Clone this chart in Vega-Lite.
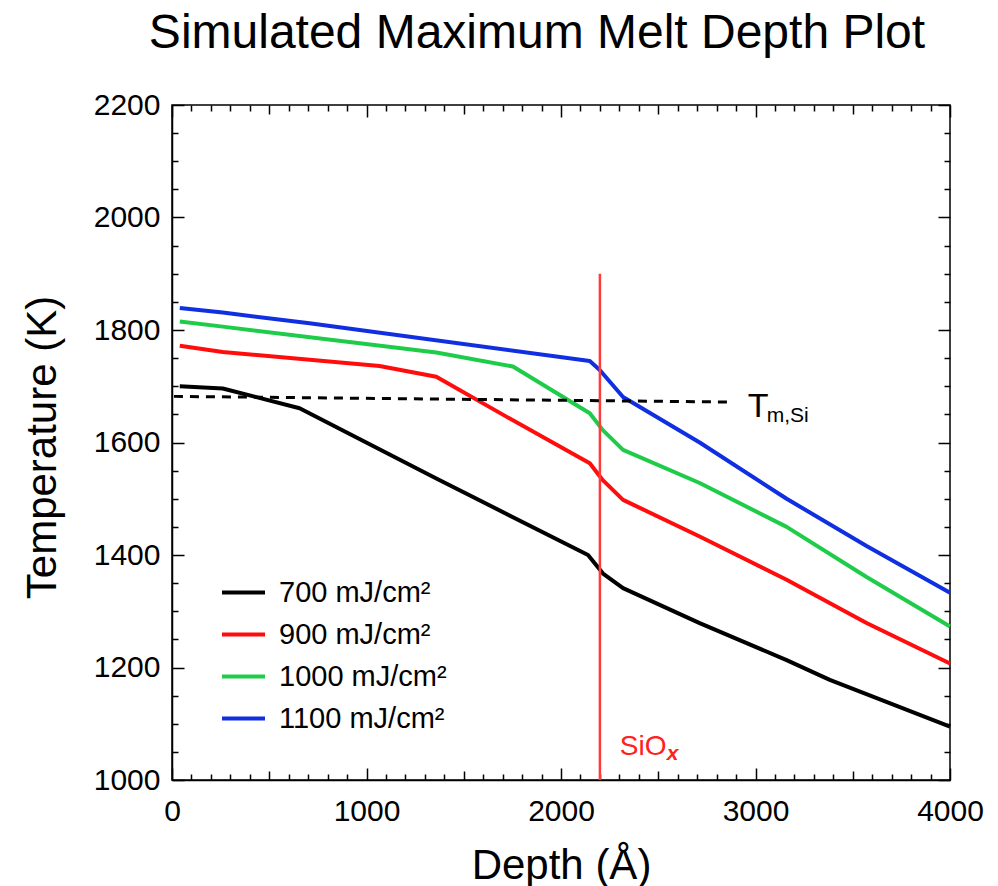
{
  "$schema": "https://vega.github.io/schema/vega-lite/v6.json",
  "autosize": "none",
  "padding": {"left": 172, "top": 105, "right": 48, "bottom": 106},
  "width": 778,
  "height": 675,
  "background": "white",
  "config": {
    "font": "Liberation Sans",
    "view": {"stroke": "black", "strokeWidth": 1.5},
    "axis": {"grid": false, "domainColor": "black", "domainWidth": 1.5, "tickColor": "black", "tickWidth": 1.5, "labelColor": "black", "titleColor": "black", "labelFont": "Liberation Sans", "titleFont": "Liberation Sans", "titleFontWeight": "normal"}
  },
  "title": {"text": "Simulated Maximum Melt Depth Plot", "fontSize": 48, "font": "Liberation Sans", "fontWeight": "normal", "color": "black", "anchor": "middle", "frame": "group", "dx": -24, "baseline": "alphabetic", "offset": -6},
  "layer": [
    {
      "layer": [
        {
          "data": {"values": [
            {"depth": 40, "temp": 1700, "series": "700 mJ/cm²"},
            {"depth": 261, "temp": 1696, "series": "700 mJ/cm²"},
            {"depth": 656, "temp": 1661, "series": "700 mJ/cm²"},
            {"depth": 1359, "temp": 1536, "series": "700 mJ/cm²"},
            {"depth": 2139, "temp": 1400, "series": "700 mJ/cm²"},
            {"depth": 2216, "temp": 1367, "series": "700 mJ/cm²"},
            {"depth": 2319, "temp": 1341, "series": "700 mJ/cm²"},
            {"depth": 2713, "temp": 1279, "series": "700 mJ/cm²"},
            {"depth": 3160, "temp": 1213, "series": "700 mJ/cm²"},
            {"depth": 3382, "temp": 1178, "series": "700 mJ/cm²"},
            {"depth": 4000, "temp": 1095, "series": "700 mJ/cm²"},
            {"depth": 40, "temp": 1772, "series": "900 mJ/cm²"},
            {"depth": 261, "temp": 1761, "series": "900 mJ/cm²"},
            {"depth": 1067, "temp": 1736, "series": "900 mJ/cm²"},
            {"depth": 1359, "temp": 1717, "series": "900 mJ/cm²"},
            {"depth": 1719, "temp": 1646, "series": "900 mJ/cm²"},
            {"depth": 2148, "temp": 1563, "series": "900 mJ/cm²"},
            {"depth": 2215, "temp": 1533, "series": "900 mJ/cm²"},
            {"depth": 2319, "temp": 1498, "series": "900 mJ/cm²"},
            {"depth": 2713, "temp": 1433, "series": "900 mJ/cm²"},
            {"depth": 3160, "temp": 1356, "series": "900 mJ/cm²"},
            {"depth": 3571, "temp": 1279, "series": "900 mJ/cm²"},
            {"depth": 4000, "temp": 1207, "series": "900 mJ/cm²"},
            {"depth": 40, "temp": 1815, "series": "1000 mJ/cm²"},
            {"depth": 261, "temp": 1806, "series": "1000 mJ/cm²"},
            {"depth": 1359, "temp": 1760, "series": "1000 mJ/cm²"},
            {"depth": 1753, "temp": 1735, "series": "1000 mJ/cm²"},
            {"depth": 2148, "temp": 1652, "series": "1000 mJ/cm²"},
            {"depth": 2215, "temp": 1622, "series": "1000 mJ/cm²"},
            {"depth": 2319, "temp": 1587, "series": "1000 mJ/cm²"},
            {"depth": 2713, "temp": 1528, "series": "1000 mJ/cm²"},
            {"depth": 3160, "temp": 1450, "series": "1000 mJ/cm²"},
            {"depth": 3571, "temp": 1361, "series": "1000 mJ/cm²"},
            {"depth": 4000, "temp": 1273, "series": "1000 mJ/cm²"},
            {"depth": 40, "temp": 1839, "series": "1100 mJ/cm²"},
            {"depth": 261, "temp": 1831, "series": "1100 mJ/cm²"},
            {"depth": 707, "temp": 1812, "series": "1100 mJ/cm²"},
            {"depth": 2148, "temp": 1745, "series": "1100 mJ/cm²"},
            {"depth": 2199, "temp": 1729, "series": "1100 mJ/cm²"},
            {"depth": 2319, "temp": 1681, "series": "1100 mJ/cm²"},
            {"depth": 2713, "temp": 1600, "series": "1100 mJ/cm²"},
            {"depth": 3160, "temp": 1500, "series": "1100 mJ/cm²"},
            {"depth": 3571, "temp": 1416, "series": "1100 mJ/cm²"},
            {"depth": 4000, "temp": 1333, "series": "1100 mJ/cm²"}
          ]},
          "mark": {"type": "line", "strokeWidth": 4, "strokeJoin": "round"},
          "encoding": {
            "x": {"field": "depth", "type": "quantitative", "scale": {"domain": [0, 4000], "nice": false, "zero": false},
              "axis": {"orient": "bottom", "title": "Depth (Å)", "titleFontSize": 42, "titleBaseline": "alphabetic", "titleY": 98, "titleX": 389, "titleAlign": "center",
                "values": [0, 1000, 2000, 3000, 4000], "format": "d", "labelFontSize": 30, "labelFlush": false, "labelOverlap": false, "labelBound": false, "labelBaseline": "top",
                "tickSize": -12, "labelPadding": 28}},
            "y": {"field": "temp", "type": "quantitative", "scale": {"domain": [1000, 2200], "nice": false, "zero": false},
              "axis": {"orient": "left", "title": "Temperature (K)", "titleFontSize": 42, "titleBaseline": "alphabetic", "titleAngle": -90, "titleX": -117, "titleY": 342, "titleAlign": "center",
                "values": [1000, 1200, 1400, 1600, 1800, 2000, 2200], "format": "d", "labelFontSize": 30, "labelFlush": false, "labelOverlap": false, "labelBound": false,
                "tickSize": -12, "labelPadding": 24}},
            "color": {"field": "series", "type": "nominal",
              "scale": {"domain": ["700 mJ/cm²", "900 mJ/cm²", "1000 mJ/cm²", "1100 mJ/cm²"], "range": ["#000000", "#ff0d0d", "#1fcc4a", "#0f2fe0"]},
              "legend": {"title": null, "orient": "none", "legendX": 48, "legendY": 464, "symbolType": "stroke", "symbolSize": 1849, "symbolStrokeWidth": 4, "labelFontSize": 29, "labelFont": "Liberation Sans", "labelColor": "black", "labelOffset": 12, "labelLimit": 400, "rowPadding": 3, "padding": 0}}
          }
        },
        {
          "data": {"values": [{}]},
          "mark": {"type": "rule", "color": "#ff3b3b", "strokeWidth": 2.5},
          "encoding": {"x": {"datum": 2200, "type": "quantitative"}, "y": {"datum": 1000, "type": "quantitative"}, "y2": {"datum": 1900}}
        },
        {
          "data": {"values": [{}]},
          "mark": {"type": "rule", "color": "black", "strokeWidth": 3, "strokeDash": [9, 7]},
          "encoding": {"x": {"datum": 10, "type": "quantitative"}, "x2": {"datum": 2860}, "y": {"datum": 1682, "type": "quantitative"}, "y2": {"datum": 1672}}
        },
        {
          "data": {"values": [{}]},
          "mark": {"type": "text", "text": "T", "fontSize": 34, "align": "left", "baseline": "alphabetic", "color": "black"},
          "encoding": {"x": {"datum": 2960, "type": "quantitative"}, "y": {"datum": 1645, "type": "quantitative"}}
        },
        {
          "data": {"values": [{}]},
          "mark": {"type": "text", "text": "m,Si", "fontSize": 21, "align": "left", "baseline": "alphabetic", "color": "black"},
          "encoding": {"x": {"datum": 3058, "type": "quantitative"}, "y": {"datum": 1636, "type": "quantitative"}}
        },
        {
          "data": {"values": [{}]},
          "mark": {"type": "text", "text": "SiO", "fontSize": 28, "align": "left", "baseline": "alphabetic", "color": "#ff2020"},
          "encoding": {"x": {"datum": 2302, "type": "quantitative"}, "y": {"datum": 1044, "type": "quantitative"}}
        },
        {
          "data": {"values": [{}]},
          "mark": {"type": "text", "text": "x", "fontSize": 21, "fontStyle": "italic", "fontWeight": "bold", "align": "left", "baseline": "alphabetic", "color": "#ff2020"},
          "encoding": {"x": {"datum": 2544, "type": "quantitative"}, "y": {"datum": 1036, "type": "quantitative"}}
        }
      ]
    },
    {
      "data": {"values": [{}]},
      "mark": {"type": "point", "opacity": 0},
      "encoding": {
        "x": {"datum": 0, "type": "quantitative", "scale": {"domain": [0, 4000], "nice": false, "zero": false},
          "axis": {"orient": "top", "title": null, "labels": false, "domain": false, "tickSize": -6,
            "values": [100,200,300,400,600,700,800,900,1100,1200,1300,1400,1600,1700,1800,1900,2100,2200,2300,2400,2600,2700,2800,2900,3100,3200,3300,3400,3600,3700,3800,3900]}},
        "y": {"datum": 1000, "type": "quantitative", "scale": {"domain": [1000, 2200], "nice": false, "zero": false},
          "axis": {"orient": "right", "title": null, "labels": false, "domain": false, "tickSize": -6,
            "values": [1050,1100,1150,1250,1300,1350,1450,1500,1550,1650,1700,1750,1850,1900,1950,2050,2100,2150]}}
      }
    },
    {
      "data": {"values": [{}]},
      "mark": {"type": "point", "opacity": 0},
      "encoding": {
        "x": {"datum": 0, "type": "quantitative", "scale": {"domain": [0, 4000], "nice": false, "zero": false},
          "axis": {"orient": "bottom", "title": null, "labels": false, "domain": false, "tickSize": -6,
            "values": [100,200,300,400,600,700,800,900,1100,1200,1300,1400,1600,1700,1800,1900,2100,2200,2300,2400,2600,2700,2800,2900,3100,3200,3300,3400,3600,3700,3800,3900]}},
        "y": {"datum": 1000, "type": "quantitative", "scale": {"domain": [1000, 2200], "nice": false, "zero": false},
          "axis": {"orient": "left", "title": null, "labels": false, "domain": false, "tickSize": -6,
            "values": [1050,1100,1150,1250,1300,1350,1450,1500,1550,1650,1700,1750,1850,1900,1950,2050,2100,2150]}}
      }
    },
    {
      "data": {"values": [{}]},
      "mark": {"type": "point", "opacity": 0},
      "encoding": {
        "x": {"datum": 0, "type": "quantitative", "scale": {"domain": [0, 4000], "nice": false, "zero": false},
          "axis": {"orient": "top", "title": null, "labels": false, "domain": false, "tickSize": -12, "values": [0, 1000, 2000, 3000, 4000]}},
        "y": {"datum": 1000, "type": "quantitative", "scale": {"domain": [1000, 2200], "nice": false, "zero": false},
          "axis": {"orient": "right", "title": null, "labels": false, "domain": false, "tickSize": -12, "values": [1000, 1200, 1400, 1600, 1800, 2000, 2200]}}
      }
    },
    {
      "data": {"values": [{}]},
      "mark": {"type": "point", "opacity": 0},
      "encoding": {
        "x": {"datum": 0, "type": "quantitative", "scale": {"domain": [0, 4000], "nice": false, "zero": false},
          "axis": {"orient": "bottom", "title": null, "labels": false, "domain": false, "tickSize": -9, "values": [500, 1500, 2500, 3500]}},
        "y": {"datum": 1000, "type": "quantitative", "scale": {"domain": [1000, 2200], "nice": false, "zero": false}, "axis": null}
      }
    },
    {
      "data": {"values": [{}]},
      "mark": {"type": "point", "opacity": 0},
      "encoding": {
        "x": {"datum": 0, "type": "quantitative", "scale": {"domain": [0, 4000], "nice": false, "zero": false},
          "axis": {"orient": "top", "title": null, "labels": false, "domain": false, "tickSize": -9, "values": [500, 1500, 2500, 3500]}},
        "y": {"datum": 1000, "type": "quantitative", "scale": {"domain": [1000, 2200], "nice": false, "zero": false}, "axis": null}
      }
    }
  ],
  "resolve": {"scale": {"x": "independent", "y": "independent"}}
}
